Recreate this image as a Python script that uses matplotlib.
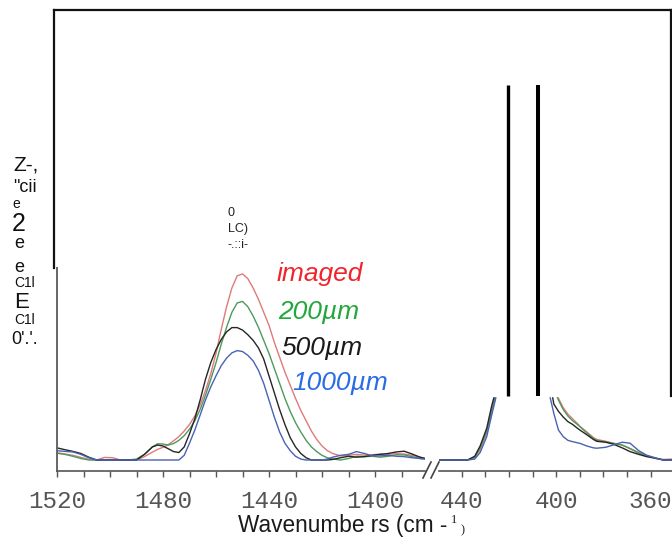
import numpy as np
import matplotlib.pyplot as plt
from matplotlib.lines import Line2D
from matplotlib.ticker import MultipleLocator

# figure size in pixels (dpi 100)
W, H = 672, 547


def fx(x):
    return x / W


def fy(y):
    return 1 - y / H


# ---- data: left segment (1520-1381 cm-1) ----
wn_l = [1520, 1517, 1514, 1511, 1508, 1505, 1502, 1499, 1496, 1493, 1490, 1487, 1484, 1482, 1480,
        1478, 1476, 1474, 1472, 1470, 1468, 1466, 1464, 1462, 1460, 1458, 1456, 1454, 1452, 1450,
        1448, 1446, 1444, 1442, 1440, 1438, 1436, 1434, 1432, 1430, 1428, 1426, 1424, 1422, 1420,
        1418, 1416, 1413, 1410, 1407, 1404, 1401, 1398, 1395, 1392, 1389, 1386, 1383, 1381]
imaged_l = [0.039, 0.032, 0.025, 0.014, 0.004, 0.0, 0.014, 0.012, 0.0, 0.0, 0.0, 0.018, 0.042, 0.057, 0.068,
            0.082, 0.103, 0.125, 0.155, 0.19, 0.235, 0.295, 0.37, 0.46, 0.57, 0.70, 0.82, 0.92, 0.985, 0.995,
            0.97, 0.92, 0.86, 0.79, 0.72, 0.63, 0.55, 0.47, 0.40, 0.33, 0.265, 0.21, 0.155, 0.11, 0.075,
            0.05, 0.035, 0.022, 0.025, 0.03, 0.026, 0.028, 0.032, 0.03, 0.034, 0.032, 0.025, 0.015, 0.008]
um200_l = [0.036, 0.03, 0.02, 0.008, 0.0, 0.0, 0.0, 0.0, 0.0, 0.0, 0.005, 0.03, 0.07, 0.087, 0.085,
           0.08, 0.088, 0.105, 0.13, 0.165, 0.21, 0.27, 0.345, 0.43, 0.52, 0.62, 0.71, 0.79, 0.84, 0.848,
           0.82, 0.77, 0.71, 0.64, 0.57, 0.49, 0.41, 0.33, 0.26, 0.20, 0.15, 0.105, 0.07, 0.045, 0.025,
           0.012, 0.005, 0.0, 0.008, 0.02, 0.018, 0.02, 0.015, 0.02, 0.028, 0.027, 0.018, 0.008, 0.005]
um500_l = [0.065, 0.055, 0.046, 0.035, 0.015, 0.0, 0.0, 0.0, 0.0, 0.0, 0.0, 0.03, 0.07, 0.08, 0.075,
           0.06, 0.045, 0.04, 0.07, 0.14, 0.22, 0.32, 0.43, 0.52, 0.59, 0.645, 0.685, 0.708, 0.708, 0.695,
           0.67, 0.64, 0.60, 0.54, 0.45, 0.36, 0.27, 0.19, 0.12, 0.07, 0.035, 0.012, 0.0, 0.0, 0.0,
           0.0, 0.003, 0.012, 0.02, 0.015, 0.018, 0.025, 0.03, 0.035, 0.043, 0.047, 0.032, 0.015, 0.008]
um1000_l = [0.05, 0.046, 0.043, 0.03, 0.012, 0.0, 0.0, 0.0, 0.0, 0.0, 0.0, 0.0, 0.0, 0.0, 0.0,
            0.0, 0.0, 0.0, 0.025, 0.09, 0.16, 0.24, 0.32, 0.39, 0.45, 0.505, 0.545, 0.573, 0.585, 0.58,
            0.56, 0.53, 0.48, 0.41, 0.32, 0.23, 0.15, 0.09, 0.05, 0.02, 0.005, 0.0, 0.0, 0.0, 0.0,
            0.005, 0.015, 0.025, 0.03, 0.045, 0.035, 0.022, 0.022, 0.025, 0.02, 0.018, 0.012, 0.008, 0.005]

# ---- data: right segment (450-351 cm-1) ----
wn_r = [450, 437.5, 434.5, 432.2, 429.4, 427.3, 425.6, 424, 422, 420.6, 417, 414, 411, 407.8,
        405, 403, 401, 399, 397, 395, 393, 391, 389.9, 387, 384.2, 382.8, 379, 375.8, 372, 368.7,
        365, 361.6, 358, 354.6, 351]
imaged_r = [0.0, 0.0, 0.012, 0.055, 0.145, 0.255, 0.34, 0.7, 1.5, 2.3, 1.6, 1.3, 1.6, 2.3,
            1.0, 0.62, 0.40, 0.33, 0.28, 0.245, 0.22, 0.195, 0.18, 0.15, 0.12, 0.11, 0.10, 0.09, 0.08, 0.06,
            0.035, 0.02, 0.008, 0.003, 0.005]
um200_r = [0.0, 0.0, 0.015, 0.065, 0.155, 0.27, 0.35, 0.7, 1.5, 2.3, 1.6, 1.3, 1.6, 2.3,
           1.0, 0.6, 0.38, 0.32, 0.27, 0.235, 0.21, 0.19, 0.178, 0.145, 0.115, 0.105, 0.097, 0.089, 0.08, 0.062,
           0.04, 0.025, 0.012, 0.0, 0.002]
um500_r = [0.0, 0.0, 0.02, 0.075, 0.17, 0.29, 0.37, 0.75, 1.5, 2.3, 1.6, 1.3, 1.6, 2.3,
           0.8, 0.45, 0.3, 0.26, 0.23, 0.205, 0.19, 0.17, 0.16, 0.135, 0.11, 0.10, 0.095, 0.085, 0.065, 0.045,
           0.03, 0.018, 0.01, 0.0, 0.0]
um1000_r = [0.0, 0.0, 0.005, 0.04, 0.125, 0.24, 0.33, 0.68, 1.5, 2.3, 1.6, 1.3, 1.6, 2.3,
            0.7, 0.36, 0.25, 0.16, 0.125, 0.105, 0.098, 0.092, 0.089, 0.075, 0.065, 0.063, 0.068, 0.08, 0.095, 0.09,
            0.05, 0.025, 0.01, 0.0, 0.0]

series_names = ["imaged", "200\u00b5m", "500\u00b5m", "1000\u00b5m"]
series_colors = ["#e07a78", "#4c9a5c", "#262626", "#4a62b4"]
label_colors = ["#f0252b", "#22a83a", "#1a1a1a", "#2a6be6"]

# two big peaks drawn as bars above the cut-off
big_peaks = [420.6, 407.8]
big_peak_widths = [2.4, 2.9]

left_ticks = [1520, 1480, 1440, 1400]
right_ticks = [440, 400, 360]

# garbled OCR text of the original y label
ylabel_bits = ["Z-,", "\"cii", "e", "2", "e", "e", "C1l", "E", "C1l", "0'.'."]
ylabel_x = [13, 13, 12, 12, 14, 14, 14, 14, 14, 11]
ylabel_y = [165, 187, 204, 224, 244, 268, 283, 302, 320, 339]
ylabel_size = [15, 13, 10, 18, 13, 13, 10, 16, 10, 13]

mid_bits = ["0", "LC)", "-.::i-"]
mid_y = [213, 229, 245]

fig = plt.figure(figsize=(W / 100, H / 100), dpi=100)

# pixel layout
ax_l = fig.add_axes([fx(57), fy(471), (1520 - 1381) * 2.65 / W, 203 / H])
ax_r = fig.add_axes([fx(438.6), fy(471), (449.8 - 351) * 2.36 / W, 203 / H])

ymin, ymax = (460 - 471) / 187, (460 - 268) / 187
cover = (460 - 396) / 187

for col, y in zip(series_colors, [imaged_l, um200_l, um500_l, um1000_l]):
    ax_l.plot(wn_l, y, color=col, lw=1.0)

for col, y in zip(series_colors, [imaged_r, um200_r, um500_r, um1000_r]):
    ax_r.plot(wn_r, y, color=col, lw=1.0)

ax_l.set_xlim(1520, 1381)
ax_r.set_xlim(449.8, 351)
ax_l.set_xticks(left_ticks)
ax_r.set_xticks(right_ticks)
for ax in (ax_l, ax_r):
    ax.xaxis.set_minor_locator(MultipleLocator(10))
    ax.set_ylim(ymin, ymax)
    ax.set_yticks([])
    ax.patch.set_alpha(0)
    for s in ("top", "right"):
        ax.spines[s].set_visible(False)
    ax.spines["bottom"].set_color("#555555")
    ax.spines["bottom"].set_linewidth(1.2)
    ax.tick_params(axis="x", which="both", direction="out", length=4, width=1,
                   color="#555555", pad=10, labelsize=17.5, labelcolor="#555555")
    for lab in ax.get_xticklabels():
        lab.set_fontfamily("Liberation Mono")

ax_l.spines["left"].set_color("#666666")
ax_l.spines["left"].set_linewidth(1.4)
ax_r.spines["left"].set_visible(False)

# white area hides the tall part of the right segment
ax_r.axhspan(cover, 5, color="white", zorder=3)
ax_r.vlines(big_peaks, cover, (460 - 85) / 187, colors="black",
            linewidth=big_peak_widths, zorder=4, clip_on=False)

# outer frame
frame_kw = dict(color="#111111", lw=1.6)
fig.add_artist(Line2D([fx(54), fx(54)], [fy(10), fy(268)], **frame_kw))
fig.add_artist(Line2D([fx(54), fx(671)], [fy(10), fy(10)], **frame_kw))
fig.add_artist(Line2D([fx(671), fx(671)], [fy(10), fy(396)], **frame_kw))

# axis break marks
for x0 in (423, 431):
    fig.add_artist(Line2D([fx(x0), fx(x0 + 8)], [fy(478), fy(462)], color="#444444", lw=1.2))

# coloured labels
label_x = [277, 278, 281, 292]
label_y = [274, 312, 348, 383]
for txt, col, x, y in zip(series_names, label_colors, label_x, label_y):
    fig.text(fx(x), fy(y), txt, color=col, fontsize=19, fontstyle="italic",
             family="Liberation Sans", ha="left", va="center")

for txt, x, y, s in zip(ylabel_bits, ylabel_x, ylabel_y, ylabel_size):
    fig.text(fx(x), fy(y), txt, fontsize=s, family="Liberation Sans",
             ha="left", va="center", color="#111111")

for txt, y in zip(mid_bits, mid_y):
    fig.text(fx(228), fy(y), txt, fontsize=9, family="Liberation Sans",
             ha="left", va="center", color="#222222")

# x label
fig.text(fx(238), fy(532), "Wavenumbe rs (cm -", fontsize=16.3, family="Liberation Sans",
         ha="left", va="baseline", color="#1a1a1a")
fig.text(fx(451), fy(523), "1", fontsize=9, family="Liberation Serif",
         ha="left", va="baseline", color="#1a1a1a")
fig.text(fx(461), fy(533), ")", fontsize=9, family="Liberation Serif",
         ha="left", va="baseline", color="#1a1a1a")

fig.savefig("out.png", dpi=100, facecolor="white")
